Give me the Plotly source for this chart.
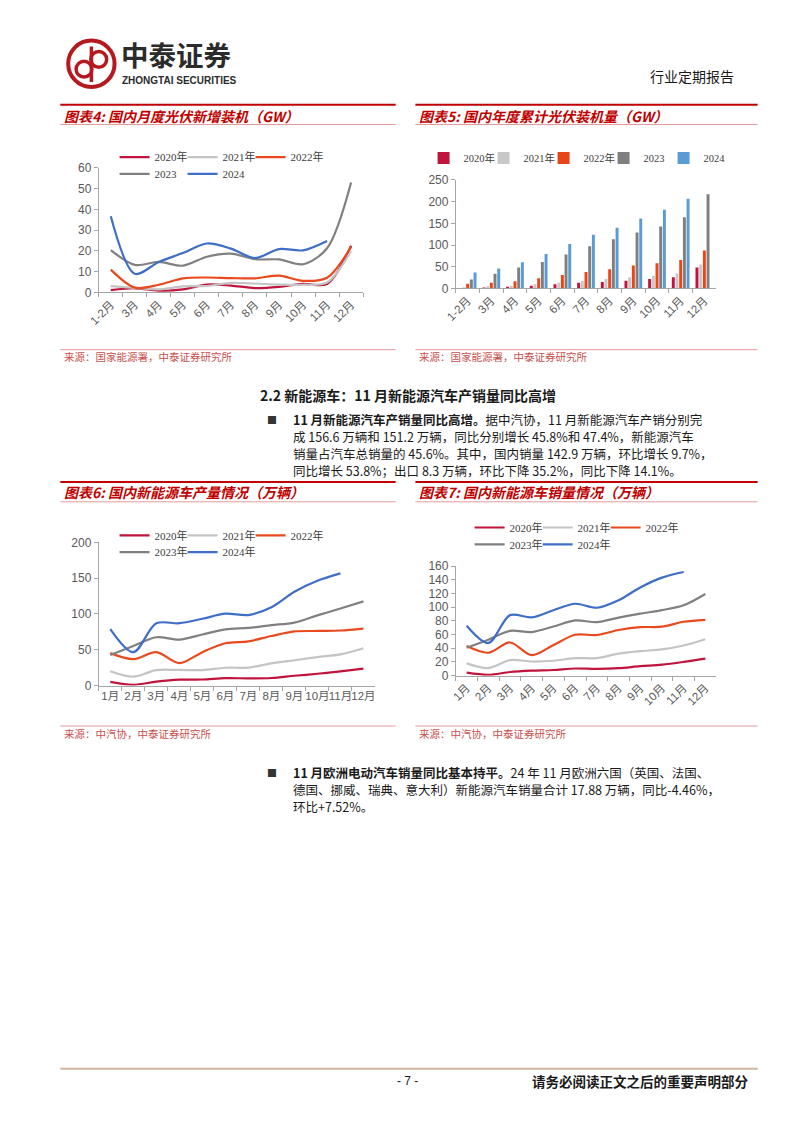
import plotly.graph_objects as go

W, H = 802, 1133

# ---------------- data ----------------
pv_months = ["1-2月", "3月", "4月", "5月", "6月", "7月", "8月", "9月", "10月", "11月", "12月"]
pv_names = ["2020年", "2021年", "2022年", "2023", "2024"]

pv_monthly_2020 = [1.1, 2.0, 0.9, 1.5, 3.8, 3.3, 2.1, 2.7, 4.1, 4.1, 22.5]
pv_monthly_2021 = [3.0, 2.2, 1.5, 2.9, 3.1, 4.6, 4.3, 3.8, 3.7, 4.8, 20.0]
pv_monthly_2022 = [11.0, 2.3, 3.7, 6.8, 7.2, 6.9, 6.8, 8.1, 5.6, 7.1, 22.0]
pv_monthly_2023 = [20.4, 13.3, 14.7, 12.9, 17.2, 18.7, 16.0, 15.9, 13.6, 21.3, 53.0]
pv_monthly_2024 = [36.7, 9.0, 14.7, 19.0, 23.6, 21.1, 16.6, 20.9, 20.3, 24.8]

pv_cum_2020 = [1.1, 2.5, 4.0, 6.0, 9.8, 13.0, 15.0, 17.6, 21.7, 25.9, 48.2]
pv_cum_2021 = [3.0, 5.3, 6.5, 9.5, 13.0, 17.5, 22.0, 25.6, 29.3, 34.5, 54.9]
pv_cum_2022 = [10.9, 13.2, 16.9, 23.7, 30.9, 37.7, 44.5, 52.6, 58.2, 65.3, 87.4]
pv_cum_2023 = [20.4, 33.7, 48.3, 61.2, 78.4, 97.2, 113.2, 128.9, 142.6, 163.9, 216.9]
pv_cum_2024 = [36.7, 45.7, 60.4, 79.2, 102.5, 123.5, 139.9, 160.9, 181.3, 206.3]

ev_months = ["1月", "2月", "3月", "4月", "5月", "6月", "7月", "8月", "9月", "10月", "11月", "12月"]
ev_names = ["2020年", "2021年", "2022年", "2023年", "2024年"]

prod_2020 = [5.0, 1.0, 5.3, 8.1, 8.4, 10.2, 10.0, 10.5, 13.6, 16.4, 19.8, 23.5]
prod_2021 = [20.0, 12.4, 21.5, 21.7, 21.6, 24.8, 25.1, 30.9, 35.3, 39.7, 43.5, 52.0]
prod_2022 = [45.2, 36.8, 46.5, 31.2, 46.6, 59.0, 61.7, 69.1, 75.5, 76.2, 76.8, 79.5]
prod_2023 = [42.5, 55.2, 67.4, 64.0, 71.3, 78.4, 80.5, 84.3, 87.9, 98.0, 107.5, 117.5]
prod_2024 = [78.7, 46.5, 86.8, 87.0, 93.2, 100.3, 98.4, 109.2, 130.9, 146.3, 156.6]

sales_2020 = [4.4, 1.3, 5.3, 7.2, 8.2, 10.4, 9.8, 10.9, 13.8, 16.0, 20.0, 24.8]
sales_2021 = [17.9, 11.0, 22.6, 20.6, 21.7, 25.6, 25.5, 32.1, 35.7, 38.3, 44.0, 53.1]
sales_2022 = [43.1, 33.4, 48.4, 29.9, 44.7, 59.6, 59.3, 66.6, 70.8, 71.4, 78.6, 81.4]
sales_2023 = [40.8, 52.5, 65.3, 63.6, 71.7, 80.6, 78.0, 84.6, 90.4, 95.6, 102.6, 119.1]
sales_2024 = [72.9, 47.7, 88.3, 85.0, 95.5, 104.9, 99.1, 110.0, 128.7, 143.0, 151.2]

line_colors = ["#C0143C", "#C4C4C4", "#E8491D", "#808080", "#3F6EC6"]
bar_colors = ["#C0143C", "#C8C8C8", "#E8461A", "#7F7F7F", "#5B9BD5"]

# ---------------- helpers ----------------
def fx(p):
    return p / W

def fy(p):
    return 1 - p / H

CJK = "Noto Sans CJK SC"
TICKFONT = dict(family="Liberation Sans, Arial, " + CJK, size=12, color="#595959")
LEGFONT = dict(family="Liberation Serif, " + CJK, size=11, color="#404040")

fig = go.Figure()

def add_lines(series, months, names, xa, ya, legs):
    for i, vals in enumerate(series):
        fig.add_trace(go.Scatter(
            x=months[:len(vals)], y=vals, name=names[i], mode="lines",
            line=dict(color=line_colors[i], width=2.2, shape="spline", smoothing=0.9),
            xaxis=xa, yaxis=ya, legend=legs[0] if i < 3 else legs[1],
            legendwidth=40 if i in (2, 4) else None,
            hoverinfo="skip"))

add_lines([pv_monthly_2020, pv_monthly_2021, pv_monthly_2022, pv_monthly_2023, pv_monthly_2024],
          pv_months, pv_names, "x", "y", ["legend", "legend2"])

for i, vals in enumerate([pv_cum_2020, pv_cum_2021, pv_cum_2022, pv_cum_2023, pv_cum_2024]):
    fig.add_trace(go.Bar(x=pv_months[:len(vals)], y=vals, name=pv_names[i],
                         marker=dict(color=bar_colors[i], line=dict(width=0)),
                         xaxis="x2", yaxis="y2", legend="legend3",
                         legendwidth=30 if i == 4 else None, hoverinfo="skip"))

add_lines([prod_2020, prod_2021, prod_2022, prod_2023, prod_2024],
          ev_months, ev_names, "x3", "y3", ["legend4", "legend5"])
add_lines([sales_2020, sales_2021, sales_2022, sales_2023, sales_2024],
          ev_months, ev_names, "x4", "y4", ["legend6", "legend7"])


def xaxis(domain, anchor, cats, angle):
    return dict(domain=domain, anchor=anchor, type="category", categoryorder="array",
                categoryarray=cats, range=[-0.5, len(cats) - 0.5], tickson="boundaries",
                showgrid=False, zeroline=False, showline=True, linecolor="#A6A6A6",
                ticks="outside", ticklen=4, tickcolor="#A6A6A6", tickangle=angle,
                tickfont=dict(family="Liberation Sans, Arial, " + CJK, size=11.5, color="#595959"),
                fixedrange=True)


def yaxis(domain, anchor, rng, dtick):
    return dict(domain=domain, anchor=anchor, range=rng, dtick=dtick, tick0=0,
                showgrid=False, zeroline=False, showline=True, linecolor="#A6A6A6",
                ticks="outside", ticklen=4, tickcolor="#A6A6A6", tickfont=TICKFONT,
                fixedrange=True)


def leg(xp, yp, ew, anchor="left", font=LEGFONT):
    return dict(x=fx(xp), y=fy(yp), xanchor=anchor, yanchor="middle", orientation="h",
                bgcolor="rgba(0,0,0,0)", font=font, entrywidth=ew, entrywidthmode="pixels",
                itemclick=False, itemdoubleclick=False, traceorder="normal")

# ---------------- page decorations ----------------
shapes = []
annotations = []

def hline(x0, x1, y, color, width):
    shapes.append(dict(type="line", xref="paper", yref="paper", x0=fx(x0), x1=fx(x1),
                       y0=fy(y), y1=fy(y), line=dict(color=color, width=width)))

def text(x, y, s, size, color="#1A1A1A", anchor="left", family=CJK, yanchor="middle"):
    annotations.append(dict(xref="paper", yref="paper", x=fx(x), y=fy(y), text=s,
                            showarrow=False, xanchor=anchor, yanchor=yanchor,
                            font=dict(family=family, size=size, color=color)))

# logo
LOGO = "#B5191F"
shapes.append(dict(type="circle", xref="paper", yref="paper", x0=fx(58), x1=fx(105),
                   y0=fy(81), y1=fy(34), line=dict(color=LOGO, width=4)))
shapes.append(dict(type="circle", xref="paper", yref="paper", x0=fx(66), x1=fx(82),
                   y0=fy(71), y1=fy(55), line=dict(color=LOGO, width=3.5)))
shapes.append(dict(type="circle", xref="paper", yref="paper", x0=fx(81), x1=fx(97),
                   y0=fy(61), y1=fy(45), line=dict(color=LOGO, width=3.5)))
shapes.append(dict(type="line", xref="paper", yref="paper", x0=fx(81.5), x1=fx(81.5),
                   y0=fy(40), y1=fy(76), line=dict(color=LOGO, width=3.5)))
text(109, 47.5, "<b>中泰证券</b>", 27.5, "#2B2B2B")
text(111, 74, "<b>ZHONGTAI SECURITIES</b>", 10, "#2B2B2B", family="Liberation Sans, Arial")
text(735, 70, "行业定期报告", 14, "#1A1A1A", anchor="right")

# chart title bars
RED = "#C00000"
for (y_top, y_bot, y_txt, t_left, t_right) in [
        (99, 119, 110, "图表4: 国内月度光伏新增装机（GW）", "图表5: 国内年度累计光伏装机量（GW）"),
        (481, 501, 491, "图表6: 国内新能源车产量情况（万辆）", "图表7: 国内新能源车销量情况（万辆）")]:
    hline(50, 390, y_top, RED, 2)
    hline(410, 757, y_top, RED, 2)
    hline(50, 390, y_bot, "#E49A9A", 1)
    hline(410, 757, y_bot, "#E49A9A", 1)
    text(52, y_txt, "<b><i>" + t_left + "</i></b>", 14, RED)
    text(412, y_txt, "<b><i>" + t_right + "</i></b>", 14, RED)

# source lines
SRC = "#C8504D"
for (y_line, y_txt, s) in [(347, 354, "来源：国家能源署，中泰证券研究所"),
                           (728, 736, "来源：中汽协，中泰证券研究所")]:
    hline(50, 390, y_line, "#E49A9A", 1)
    hline(410, 757, y_line, "#E49A9A", 1)
    text(52, y_txt, s, 10.5, SRC)
    text(412, y_txt, s, 10.5, SRC)

# section heading and paragraphs
text(403, 393, "<b>2.2 新能源车：11 月新能源汽车产销量同比高增</b>", 14, "#1A1A1A", anchor="center")
text(258, 418, "■", 10, "#333333")
para1 = ["<b>11 月新能源汽车产销量同比高增。</b>据中汽协，11 月新能源汽车产销分别完",
         "成 156.6 万辆和 151.2 万辆，同比分别增长 45.8%和 47.4%，新能源汽车",
         "销量占汽车总销量的 45.6%。其中，国内销量 142.9 万辆，环比增长 9.7%，",
         "同比增长 53.8%；出口 8.3 万辆，环比下降 35.2%，同比下降 14.1%。"]
for i, s in enumerate(para1):
    text(284, 418 + i * 17, s, 12.5, "#1A1A1A")

text(258, 775, "■", 10, "#333333")
para2 = ["<b>11 月欧洲电动汽车销量同比基本持平。</b>24 年 11 月欧洲六国（英国、法国、",
         "德国、挪威、瑞典、意大利）新能源汽车销量合计 17.88 万辆，同比-4.46%，",
         "环比+7.52%。"]
for i, s in enumerate(para2):
    text(284, 775 + i * 17, s, 12.5, "#1A1A1A")

# footer
hline(50, 757, 1075, "#D2B49C", 2)
text(402, 1087, "- 7 -", 12, "#1A1A1A", anchor="center", family="Liberation Sans, Arial")
text(750, 1087, "<b>请务必阅读正文之后的重要声明部分</b>", 13.5, "#1A1A1A", anchor="right")

# ---------------- layout ----------------
fig.update_layout(
    width=W, height=H, margin=dict(l=0, r=0, t=0, b=0, pad=0),
    paper_bgcolor="white", plot_bgcolor="white",
    barmode="group", bargap=0.22, bargroupgap=0.2,
    xaxis=xaxis([fx(89), fx(357)], "y", pv_months, -45),
    yaxis=yaxis([fy(289), fy(163)], "x", [0, 60], 10),
    xaxis2=xaxis([fx(451), fx(715)], "y2", pv_months, -45),
    yaxis2=yaxis([fy(285), fy(175)], "x2", [0, 250], 50),
    xaxis3=xaxis([fx(89), fx(369)], "y3", ev_months, 0),
    yaxis3=yaxis([fy(687), fy(542)], "x3", [0, 200], 50),
    xaxis4=xaxis([fx(451), fx(715)], "y4", ev_months, -45),
    yaxis4=yaxis([fy(677), fy(566)], "x4", [0, 160], 20),
    legend=leg(105, 152, 23),
    legend2=leg(105, 169, 23),
    legend3=leg(578, 153, 15, anchor="center",
                font=dict(family="Liberation Serif, " + CJK, size=10.5, color="#404040")),
    legend4=leg(105, 535, 23),
    legend5=leg(105, 552, 23),
    legend6=leg(465, 527, 23),
    legend7=leg(465, 544, 23),
    shapes=shapes,
    annotations=annotations,
    showlegend=True,
)

fig.write_html("out.html", config={"displayModeBar": False, "staticPlot": True})
